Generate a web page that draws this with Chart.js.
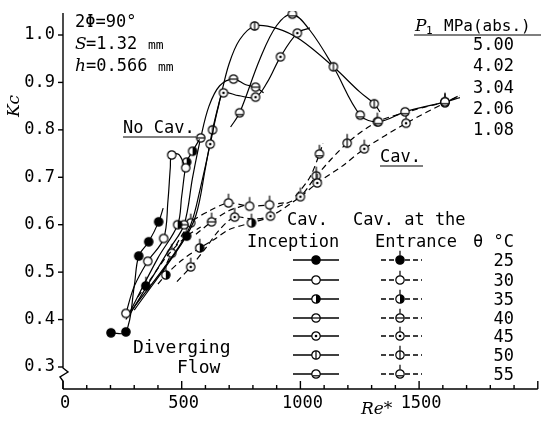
<!DOCTYPE html>
<html><head><meta charset="utf-8">
<script src="https://cdn.jsdelivr.net/npm/chart.js@4/dist/chart.umd.min.js"></script>
<style>html,body{margin:0;padding:0;background:#fff}#wrap{width:543px;height:429px;position:relative}</style>
</head><body><div id="wrap"><canvas id="c" width="543" height="429"></canvas></div>
<script>
// ---- tick labels / categories ----
const temps = ['25','30','35','40','45','50','55'];
const xTickLabels = [0, 500, 1000, 1500];
const yTickLabels = [0.3, 0.4, 0.5, 0.6, 0.7, 0.8, 0.9, 1.0];
const pressures = ['5.00', '4.02', '3.04', '2.06', '1.08'];

// ---- Cav. inception (solid lines) : Re*, Kc, symbol shown ----
const inc25Re = [202, 265, 300, 319, 361, 403, 422];
const inc25Kc = [0.372, 0.374, 0.47, 0.534, 0.564, 0.606, 0.635];
const inc25Sym = [1, 1, 0, 1, 1, 1, 0];
const inc30Re = [265, 300, 357, 424, 442, 452, 458, 488, 517, 530];
const inc30Kc = [0.413, 0.47, 0.523, 0.571, 0.65, 0.72, 0.747, 0.748, 0.72, 0.715];
const inc30Sym = [1, 0, 1, 1, 0, 0, 1, 0, 1, 0];
const inc35Re = [265, 400, 483, 500, 521, 546, 575];
const inc35Kc = [0.40, 0.53, 0.60, 0.66, 0.732, 0.755, 0.78];
const inc35Sym = [0, 0, 1, 0, 1, 1, 0];
const inc40Re = [280, 450, 510, 546, 580, 615, 660, 718, 770, 811, 845];
const inc40Kc = [0.41, 0.55, 0.60, 0.70, 0.783, 0.85, 0.893, 0.907, 0.895, 0.89, 0.878];
const inc40Sym = [0, 0, 1, 0, 1, 0, 0, 1, 0, 1, 0];
const inc45Re = [290, 470, 538, 580, 620, 655, 676, 740, 811, 860, 916, 987, 1040];
const inc45Kc = [0.42, 0.54, 0.60, 0.68, 0.77, 0.85, 0.878, 0.872, 0.869, 0.90, 0.954, 1.004, 1.015];
const inc45Sym = [0, 0, 0, 0, 1, 0, 1, 0, 1, 0, 1, 1, 0];
const inc50Re = [300, 500, 560, 600, 630, 664, 700, 744, 807, 900, 1000, 1139, 1250, 1311, 1335];
const inc50Kc = [0.42, 0.56, 0.62, 0.72, 0.80, 0.87, 0.94, 0.99, 1.019, 1.014, 0.99, 0.933, 0.88, 0.855, 0.838];
const inc50Sym = [0, 0, 0, 0, 1, 0, 0, 0, 1, 0, 0, 1, 0, 1, 0];
const inc55Re = [706, 744, 830, 900, 966, 1040, 1139, 1252, 1328, 1441, 1609, 1672];
const inc55Kc = [0.806, 0.836, 0.95, 1.02, 1.044, 1.01, 0.933, 0.831, 0.817, 0.838, 0.859, 0.868];
const inc55Sym = [0, 1, 0, 0, 1, 0, 0, 1, 1, 1, 1, 0];

// ---- Cav. at the entrance (dashed lines) ----
const ent25Re = [315, 349, 440, 521, 580];
const ent25Kc = [0.448, 0.471, 0.535, 0.576, 0.595];
const ent25Sym = [0, 1, 0, 1, 0];
const ent30Re = [420, 458, 538, 620, 697, 786, 870, 930];
const ent30Kc = [0.50, 0.54, 0.604, 0.63, 0.646, 0.639, 0.642, 0.646];
const ent30Sym = [0, 1, 1, 0, 1, 1, 1, 0];
const ent35Re = [400, 433, 500, 576, 640, 700, 794, 850];
const ent35Kc = [0.475, 0.494, 0.525, 0.551, 0.57, 0.59, 0.604, 0.612];
const ent35Sym = [0, 1, 0, 1, 0, 0, 1, 0];
const ent40Re = [560, 626, 700, 760];
const ent40Kc = [0.58, 0.606, 0.63, 0.64];
const ent40Sym = [0, 1, 0, 0];
const ent45Re = [480, 538, 600, 660, 723, 800, 874, 1000, 1071, 1180, 1269, 1445, 1609, 1672];
const ent45Kc = [0.48, 0.511, 0.55, 0.59, 0.616, 0.612, 0.618, 0.659, 0.688, 0.725, 0.76, 0.814, 0.857, 0.873];
const ent45Sym = [0, 1, 0, 0, 1, 0, 1, 1, 1, 0, 1, 1, 1, 0];
const ent50Re = [903, 1000, 1067, 1197, 1324, 1480, 1609, 1672];
const ent50Kc = [0.637, 0.66, 0.703, 0.772, 0.817, 0.842, 0.859, 0.872];
const ent50Sym = [0, 0, 1, 1, 1, 0, 1, 0];
const ent55Re = [980, 1040, 1080, 1095];
const ent55Kc = [0.66, 0.70, 0.749, 0.772];
const ent55Sym = [0, 0, 1, 0];

// ---------- styling helpers ----------
const kinds = ['filled', 'open', 'half', 'hline', 'dot', 'vline', 'chord'];
function marker(kind, stem) {
  const s = 22, c = document.createElement('canvas');
  c.width = s; c.height = s;
  const g = c.getContext('2d'), cx = 11, cy = 11, r = 4.2;
  g.lineWidth = 1.2; g.strokeStyle = '#000';
  const ln = (a, b, d, e) => { g.beginPath(); g.moveTo(a, b); g.lineTo(d, e); g.stroke(); };
  if (stem) ln(cx, cy - r, cx, cy - r - 5);
  g.beginPath(); g.arc(cx, cy, r, 0, Math.PI * 2); g.fillStyle = '#fff'; g.fill();
  if (kind === 'filled') { g.fillStyle = '#000'; g.fill(); }
  if (kind === 'half') {
    g.beginPath(); g.moveTo(cx, cy - r); g.arc(cx, cy, r, -Math.PI / 2, Math.PI / 2); g.closePath();
    g.fillStyle = '#000'; g.fill();
  }
  g.beginPath(); g.arc(cx, cy, r, 0, Math.PI * 2); g.stroke();
  if (kind === 'hline') ln(cx - r, cy, cx + r, cy);
  if (kind === 'vline') ln(cx, cy - r, cx, cy + r);
  if (kind === 'dot') { g.beginPath(); g.arc(cx, cy, 1.3, 0, Math.PI * 2); g.fillStyle = '#000'; g.fill(); }
  if (kind === 'chord') ln(cx - r * 0.85, cy + 1.8, cx + r * 0.85, cy + 1.8);
  return c;
}
const solidMk = kinds.map(k => marker(k, false));
const dashMk = kinds.map(k => marker(k, true));

const incSets = [[inc25Re, inc25Kc, inc25Sym], [inc30Re, inc30Kc, inc30Sym], [inc35Re, inc35Kc, inc35Sym],
  [inc40Re, inc40Kc, inc40Sym], [inc45Re, inc45Kc, inc45Sym], [inc50Re, inc50Kc, inc50Sym], [inc55Re, inc55Kc, inc55Sym]];
const entSets = [[ent25Re, ent25Kc, ent25Sym], [ent30Re, ent30Kc, ent30Sym], [ent35Re, ent35Kc, ent35Sym],
  [ent40Re, ent40Kc, ent40Sym], [ent45Re, ent45Kc, ent45Sym], [ent50Re, ent50Kc, ent50Sym], [ent55Re, ent55Kc, ent55Sym]];

const datasets = [];
incSets.forEach(([re, kc, sym], i) => datasets.push({
  label: 'Cav. inception ' + temps[i] + ' °C',
  data: re.map((x, j) => ({ x, y: kc[j] })),
  showLine: true, tension: 0.35, borderColor: '#000', borderWidth: 1.2,
  pointStyle: solidMk[i], pointRadius: sym.map(v => v ? 4 : 0)
}));
entSets.forEach(([re, kc, sym], i) => datasets.push({
  label: 'Cav. at the entrance ' + temps[i] + ' °C',
  data: re.map((x, j) => ({ x, y: kc[j] })),
  showLine: true, tension: 0.3, borderColor: '#000', borderWidth: 1.2, borderDash: [6, 4],
  pointStyle: dashMk[i], pointRadius: sym.map(v => v ? 4 : 0)
}));

const MONO = '"DejaVu Sans Mono", monospace';
const SERIF_I = 'italic 17px "DejaVu Serif", serif';

const deco = {
  id: 'deco',
  afterDraw(chart) {
    const g = chart.ctx, xs = chart.scales.x, ys = chart.scales.y, a = chart.chartArea;
    g.save();
    g.strokeStyle = '#000'; g.fillStyle = '#000'; g.lineWidth = 1.4;
    const ln = (x1, y1, x2, y2) => { g.beginPath(); g.moveTo(x1, y1); g.lineTo(x2, y2); g.stroke(); };
    // x axis with inward ticks and labels
    ln(a.left, a.bottom, a.right, a.bottom);
    for (let v = 0; v <= 2000; v += 100) {
      const px = xs.getPixelForValue(v);
      ln(px, a.bottom, px, a.bottom - (v % 500 === 0 ? 8 : 4));
    }
    g.font = '17px ' + MONO; g.textAlign = 'center'; g.textBaseline = 'alphabetic';
    xTickLabels.forEach(v => g.fillText(String(v), xs.getPixelForValue(v) + 2, 408));
    g.textAlign = 'left';
    // y axis with break
    const yb = ys.getPixelForValue(0.3) + 1;
    g.beginPath();
    g.moveTo(a.left, a.top + 2); g.lineTo(a.left, yb);
    g.lineTo(a.left + 5, yb + 4); g.lineTo(a.left - 3, yb + 9); g.lineTo(a.left, yb + 13);
    g.lineTo(a.left, a.bottom); g.stroke();
    yTickLabels.forEach(v => { const py = ys.getPixelForValue(v); ln(a.left - 5, py, a.left, py); });
    // axis titles
    g.font = SERIF_I;
    g.fillText('Re*', 361, 414);
    g.save(); g.translate(19, 106); g.rotate(-Math.PI / 2); g.textAlign = 'center'; g.fillText('Kc', 0, 0); g.restore();
    // parameters
    g.font = '17px ' + MONO; g.fillText('2Φ=90°', 75, 27);
    g.font = SERIF_I; g.fillText('S', 75, 49); g.fillText('h', 75, 71);
    g.font = '17px ' + MONO; g.fillText('=1.32', 86, 49); g.fillText('=0.566', 86, 71);
    g.font = '13px ' + MONO; g.fillText('mm', 148, 49); g.fillText('mm', 158, 71);
    // pressure list
    g.font = SERIF_I; g.fillText('P', 415, 31);
    g.font = '11px ' + MONO; g.fillText('1', 426, 34);
    g.font = '16px ' + MONO; g.fillText('MPa(abs.)', 444, 31);
    g.lineWidth = 1.2; ln(414, 35, 541, 35);
    g.font = '17px ' + MONO; g.textAlign = 'right';
    pressures.forEach((p, i) => g.fillText(p, 514, 50 + i * 21.3));
    g.textAlign = 'left';
    // region labels
    g.fillText('No Cav.', 123, 133); ln(123, 137, 196, 137);
    g.fillText('Cav.', 380, 162); ln(380, 166, 423, 166);
    g.font = '18px ' + MONO;
    g.fillText('Diverging', 133, 353); g.fillText('Flow', 177, 373);
    // legend
    g.font = '17px ' + MONO;
    g.fillText('Cav.', 287, 225); g.fillText('Inception', 247, 247);
    g.fillText('Cav. at the', 353, 225); g.fillText('Entrance', 375, 247);
    g.fillText('θ °C', 473, 247);
    const rows = [260, 280, 299, 318, 336, 355, 374];
    g.lineWidth = 1.3;
    rows.forEach((ry, i) => {
      ln(293, ry, 339, ry);
      g.drawImage(solidMk[i], 316 - 11, ry - 11);
      g.setLineDash([5, 3]); ln(381, ry, 422, ry); g.setLineDash([]);
      g.drawImage(dashMk[i], 400 - 11, ry - 11);
      g.textAlign = 'right'; g.fillText(temps[i], 514, ry + 6); g.textAlign = 'left';
    });
    g.restore();
  }
};

new Chart(document.getElementById('c'), {
  type: 'scatter',
  data: { datasets },
  plugins: [deco],
  options: {
    responsive: false, animation: false, events: [],
    layout: { padding: { top: 11, right: 1, left: 0, bottom: 0 } },
    plugins: { legend: { display: false }, tooltip: { enabled: false } },
    scales: {
      x: {
        type: 'linear', min: 0, max: 2000,
        grid: { display: false }, border: { display: false },
        afterFit: s => { s.height = 40; },
        ticks: { display: false }
      },
      y: {
        type: 'linear', min: 0.2536, max: 1.0506,
        grid: { display: false, drawTicks: true, tickLength: 8 }, border: { display: false },
        afterFit: s => { s.width = 63; },
        afterBuildTicks: s => { s.ticks = yTickLabels.map(v => ({ value: v })); },
        ticks: { color: '#000', font: { family: MONO, size: 17 }, padding: 0,
          callback: v => Number(v).toFixed(1) }
      }
    }
  }
});
</script></body></html>
